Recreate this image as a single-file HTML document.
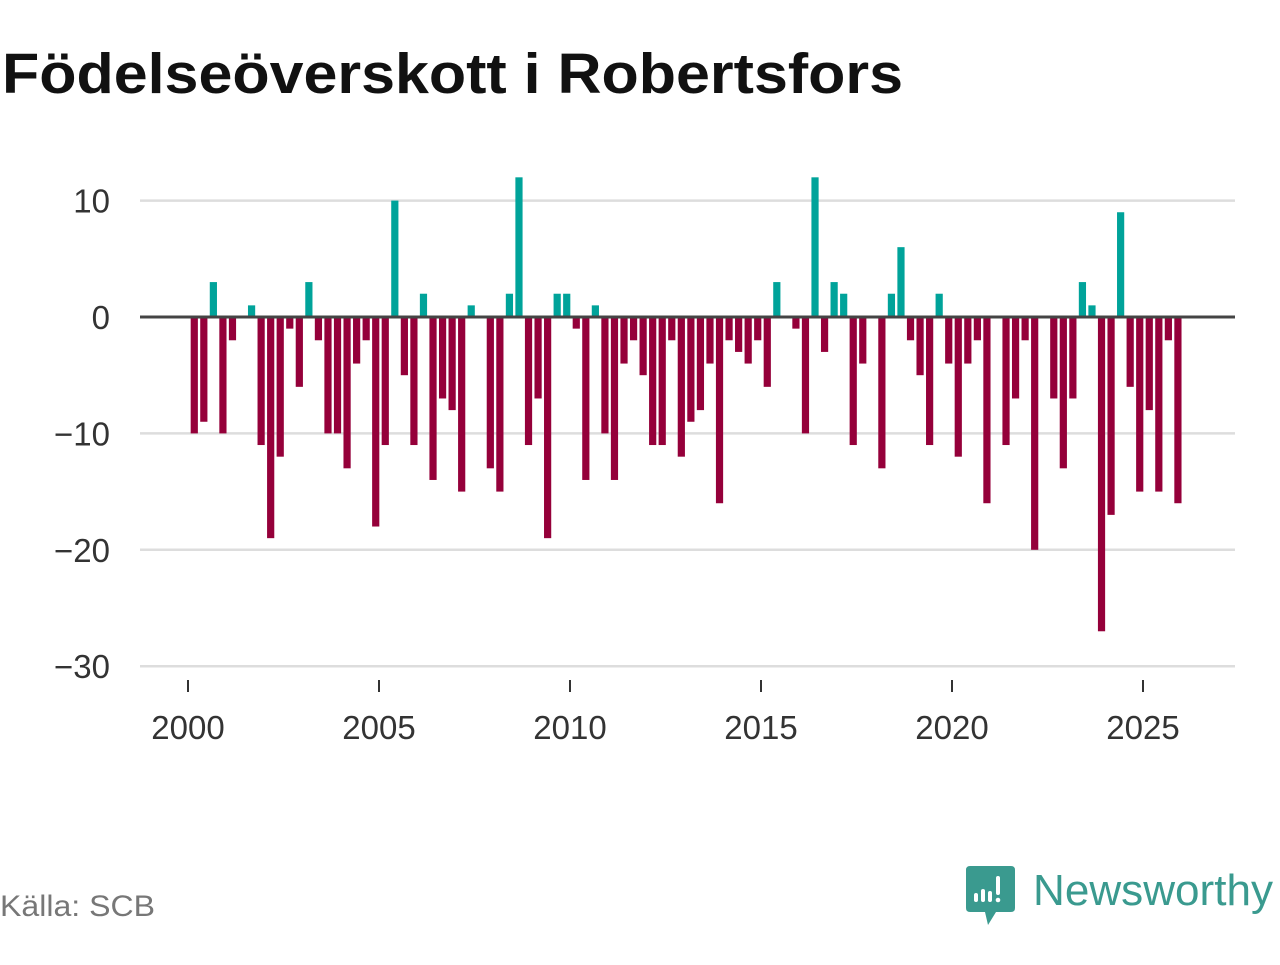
<!DOCTYPE html>
<html><head><meta charset="utf-8"><style>
body{margin:0;width:1280px;height:960px;background:#fff;overflow:hidden;font-family:"Liberation Sans",sans-serif}
</style></head><body>
<svg width="1280" height="960" xmlns="http://www.w3.org/2000/svg">
<text x="2" y="93" font-size="57" font-weight="bold" fill="#111" textLength="901" lengthAdjust="spacingAndGlyphs">Födelseöverskott i Robertsfors</text>
<g id="grid"></g><g id="bars"></g><g id="axes"></g>
<text x="0" y="916" font-size="30" fill="#777" textLength="155" lengthAdjust="spacingAndGlyphs">Källa: SCB</text>
<g>
<path d="M970 866 H1011 Q1015 866 1015 870 V908 Q1015 912 1011 912 H996 L988 925 L985 912 H970 Q966 912 966 908 V870 Q966 866 970 866Z" fill="#3a9a8f"/>
<rect x="974" y="893" width="4" height="9" rx="2" fill="#fff"/>
<rect x="981" y="889" width="4" height="13" rx="2" fill="#fff"/>
<rect x="988" y="891" width="4" height="11" rx="2" fill="#fff"/>
<rect x="996" y="876" width="4" height="19" rx="2" fill="#fff"/>
<circle cx="998" cy="900" r="2.3" fill="#fff"/>
<text x="1033" y="905" font-size="44" fill="#3a9a8f" textLength="240" lengthAdjust="spacingAndGlyphs">Newsworthy</text>
</g>
</svg>
<script>
const years=[2000,2005,2010,2015,2020,2025];
const yTicks=[10,0,-10,-20,-30];
const yTickLabels=["10","0","−10","−20","−30"];
const values=[-10,-9,3,-10,-2,0,1,-11,-19,-12,-1,-6,3,-2,-10,-10,-13,-4,-2,-18,-11,10,-5,-11,2,-14,-7,-8,-15,1,0,-13,-15,2,12,-11,-7,-19,2,2,-1,-14,1,-10,-14,-4,-2,-5,-11,-11,-2,-12,-9,-8,-4,-16,-2,-3,-4,-2,-6,3,0,-1,-10,12,-3,3,2,-11,-4,0,-13,2,6,-2,-5,-11,2,-4,-12,-4,-2,-16,0,-11,-7,-2,-20,0,-7,-13,-7,3,1,-27,-17,9,-6,-15,-8,-15,-2,-16];
const NS="http://www.w3.org/2000/svg";
function xS(t){return 188+(t-2000)*38.2;}
function yS(v){return 317-v*11.64;}
function mk(tag,attrs,parent){const e=document.createElementNS(NS,tag);for(const k in attrs)e.setAttribute(k,attrs[k]);document.getElementById(parent).appendChild(e);return e;}
yTicks.forEach((v,i)=>{
  if(v!==0){const l=mk('line',{x1:140,x2:1235,y1:yS(v),y2:yS(v),stroke:'#ddd','stroke-width':2.5},'grid');
  
  }
  const t=mk('text',{x:110,y:yS(v)+12,'font-size':33,fill:'#333','text-anchor':'end'},'axes');
  t.textContent=yTickLabels[i];
  
  
});
values.forEach((v,i)=>{
  const cx=xS(2000+(i+0.5)/4)+1.5;
  const y0=yS(0),y1=yS(v);
  const r=mk('rect',{x:cx-3.6,y:Math.min(y0,y1),width:7.2,height:Math.abs(y1-y0),fill:v>=0?'#00a39a':'#95003a'},'bars');
  
  
});
const z=mk('line',{x1:140,x2:1235,y1:yS(0),y2:yS(0),stroke:'#444','stroke-width':3},'axes');


years.forEach(yr=>{
  const x=xS(yr);
  const tk=mk('line',{x1:x,x2:x,y1:680,y2:692,stroke:'#333','stroke-width':2},'axes');
  
  
  const t=mk('text',{x:x,y:739,'font-size':33,fill:'#333','text-anchor':'middle'},'axes');
  t.textContent=yr;
  
  
});
</script>
</body></html>
